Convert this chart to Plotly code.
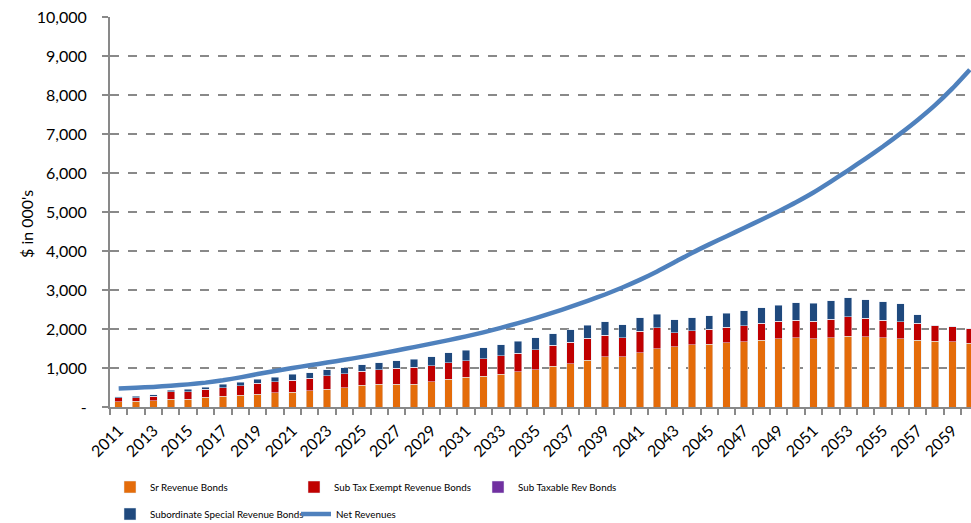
import plotly.graph_objects as go

years = list(range(2011, 2061))

sr_revenue = [130, 150, 155, 200, 200, 250, 275, 300, 330, 360,
              380, 415, 455, 490, 560, 585, 585, 585, 645, 715,
              760, 795, 845, 905, 960, 1040, 1110, 1195, 1290, 1290,
              1390, 1495, 1545, 1600, 1615, 1650, 1675, 1710, 1750, 1775,
              1750, 1775, 1820, 1800, 1775, 1750, 1710, 1680, 1675, 1630]

sub_tax_exempt = [110, 90, 120, 190, 190, 200, 225, 245, 275, 285,
                  310, 325, 345, 365, 355, 370, 405, 430, 415, 425,
                  430, 445, 475, 475, 510, 540, 550, 565, 550, 490,
                  550, 540, 355, 350, 385, 395, 410, 435, 445, 455,
                  455, 480, 490, 475, 455, 440, 435, 415, 385, 380]

sub_taxable = [0] * 50

subordinate_special = [25, 30, 45, 40, 65, 60, 80, 95, 110, 120,
                       145, 140, 155, 155, 165, 185, 200, 210, 235, 250,
                       260, 285, 275, 305, 300, 300, 320, 335, 340, 330,
                       345, 345, 335, 335, 335, 365, 385, 395, 415, 440,
                       455, 465, 490, 480, 465, 460, 215, 0, 0, 0]

net_revenues = [475, 495, 515, 545, 580, 625, 685, 760, 845, 925,
                1000, 1070, 1140, 1210, 1285, 1365, 1450, 1535, 1625, 1715,
                1810, 1915, 2030, 2150, 2280, 2420, 2565, 2720, 2885, 3065,
                3260, 3475, 3710, 3950, 4170, 4380, 4590, 4800, 5020, 5250,
                5500, 5780, 6070, 6370, 6680, 7010, 7360, 7740, 8170, 8650]

y_ticks = list(range(0, 10001, 1000))
y_ticktext = ["-"] + [f"{v:,}" for v in y_ticks[1:]]
x_ticks = list(range(2011, 2061, 2))

FONT = "Lato"
GRAY = "#898989"
BAR_W = 0.43

fig = go.Figure()
fig.add_trace(go.Bar(x=years, y=sr_revenue, name="Sr Revenue Bonds",
                     marker_color="#E46C0A", width=BAR_W, legend="legend"))
fig.add_trace(go.Bar(x=years, y=sub_tax_exempt, name="Sub Tax Exempt Revenue Bonds",
                     marker_color="#C00000", width=BAR_W, legend="legend"))
fig.add_trace(go.Bar(x=years, y=sub_taxable, name="Sub Taxable Rev Bonds",
                     marker_color="#7030A0", width=BAR_W, legend="legend"))
fig.add_trace(go.Bar(x=years, y=subordinate_special, name="Subordinate Special Revenue Bonds",
                     marker_color="#1F497D", width=BAR_W, legend="legend2"))
fig.add_trace(go.Scatter(x=years, y=net_revenues, name="Net Revenues", mode="lines",
                         line=dict(color="#4F81BD", width=4.5, shape="spline", smoothing=0.5),
                         legend="legend3"))

legend_common = dict(orientation="h", xref="container", xanchor="left",
                     yref="container", yanchor="middle", traceorder="normal",
                     font=dict(size=9.8, family=FONT), entrywidth=139,
                     entrywidthmode="pixels", bgcolor="rgba(0,0,0,0)", tracegroupgap=0)

fig.update_layout(
    width=971, height=523,
    margin=dict(l=110, r=0, t=17, b=116, autoexpand=False),
    barmode="stack",
    plot_bgcolor="white", paper_bgcolor="white",
    font=dict(family=FONT, color="#000000", size=16),
    legend=dict(legend_common, x=110 / 971, y=1 - 487 / 523),
    legend2=dict(legend_common, x=110 / 971, y=1 - 514 / 523, entrywidth=175),
    legend3=dict(legend_common, x=296 / 971, y=1 - 514 / 523),
    xaxis=dict(
        range=[2010.5, 2060.07], showgrid=False, zeroline=False, automargin=False,
        showline=True, linecolor=GRAY, linewidth=2,
        tickmode="array", tickvals=x_ticks, ticktext=[str(v) for v in x_ticks],
        ticks="", tickangle=-45, tickfont=dict(size=16, family=FONT),
        ticklabelstandoff=6,
        minor=dict(tickvals=[y - 0.5 for y in years] + [2060.5], ticks="outside",
                   ticklen=6, tickwidth=2, tickcolor=GRAY, showgrid=False),
    ),
    yaxis=dict(
        range=[0, 10000], tickmode="array", tickvals=y_ticks, ticktext=y_ticktext,
        showgrid=True, gridcolor=GRAY, gridwidth=2, griddash="dash", automargin=False,
        zeroline=False, showline=True, linecolor=GRAY, linewidth=2,
        ticks="outside", ticklen=6, tickwidth=2, tickcolor=GRAY,
        tickfont=dict(size=16, family=FONT), ticklabelstandoff=12,
    ),
    annotations=[dict(text="$ in 000's", textangle=-90, xref="paper", yref="paper",
                      x=0, xshift=-84, y=(407 - 224) / 390, showarrow=False,
                      font=dict(size=16, family=FONT), xanchor="center", yanchor="middle")],
)

fig.write_html("out.html")
